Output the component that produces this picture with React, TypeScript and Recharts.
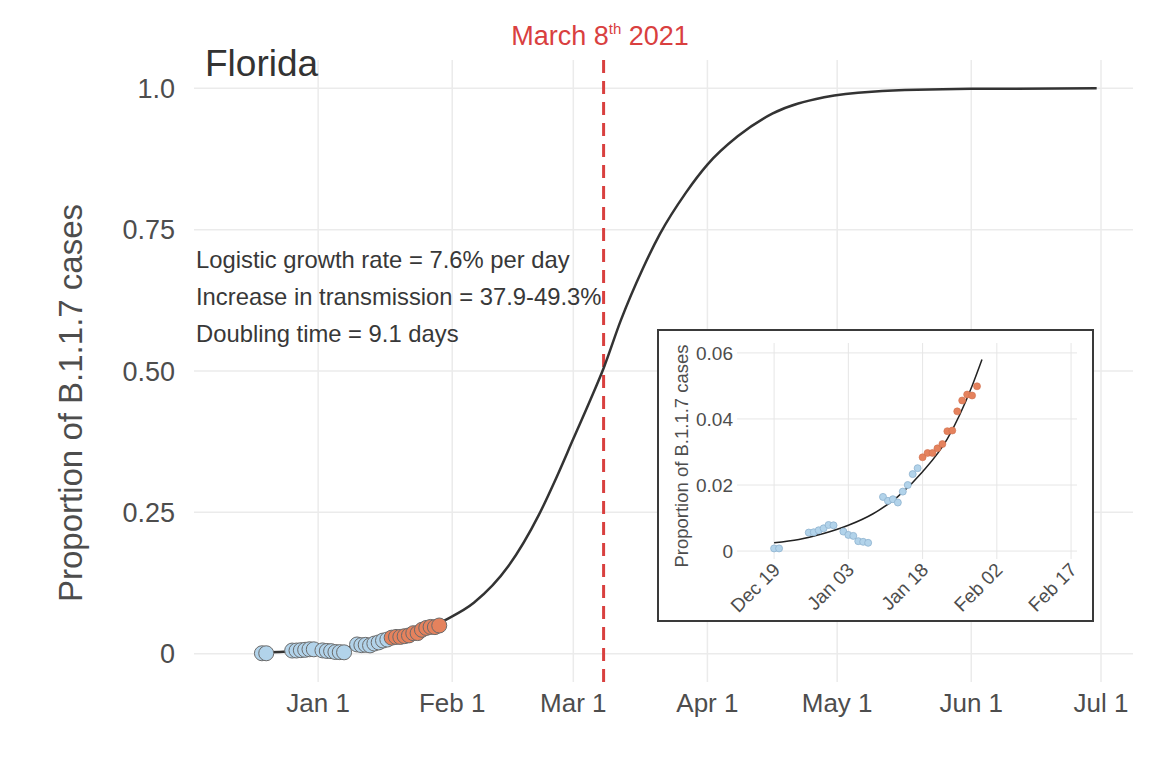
import { ComposedChart, Line, Scatter, XAxis, YAxis, CartesianGrid, ReferenceLine } from 'recharts'

const FONT = '"Liberation Sans", Arial, Helvetica, sans-serif'
const TEXT = '#4d4d4d'
const BLUE = '#b2d3ea'
const ORANGE = '#e5825d'

// all x values are days counted from Jan 1 2021 (Dec 19 = -13)
const mainTickDays = [0, 31, 59, 90, 120, 151, 181]
const mainTickLabels = ['Jan 1', 'Feb 1', 'Mar 1', 'Apr 1', 'May 1', 'Jun 1', 'Jul 1']
const shareTicks = [0, 0.25, 0.5, 0.75, 1]
const shareTickLabels = ['0', '0.25', '0.50', '0.75', '1.0']

const insetTickDays = [-13, 2, 17, 32, 47]
const insetTickLabels = ['Dec 19', 'Jan 03', 'Jan 18', 'Feb 02', 'Feb 17']
const insetShareTicks = [0, 0.02, 0.04, 0.06]
const insetShareLabels = ['0', '0.02', '0.04', '0.06']

const markerDay = 66 // March 8th

// sequenced samples, before Jan 18
const blueDays = [-13, -12, -6, -5, -4, -3, -2, -1, 1, 2, 3, 4, 5, 6, 9, 10, 11, 12, 13, 14, 15, 16]
const blueShare = [
  0.0008, 0.0008, 0.0056, 0.0057, 0.0063, 0.0069, 0.0079, 0.0078,
  0.0059, 0.0049, 0.0046, 0.003, 0.0028, 0.0025,
  0.0164, 0.0152, 0.0157, 0.0147, 0.018, 0.02, 0.0233, 0.0251,
]
// Jan 18 - Jan 29
const orangeDays = [17, 18, 19, 20, 21, 22, 23, 24, 25, 26, 27, 28]
const orangeShare = [0.0284, 0.0297, 0.0297, 0.0311, 0.0324, 0.0363, 0.0365, 0.0423, 0.0456, 0.0474, 0.0471, 0.0499]

// fitted logistic curve
const fitDays = [-13, -8, -3, 2, 7, 12, 17, 22, 27, 29, 36, 44, 51, 55, 59, 63, 66, 70, 75, 79, 85, 90, 97, 105, 117, 128, 151, 180]
const fitShare = [
  0.0025, 0.0035, 0.0053, 0.0078, 0.0113, 0.0165, 0.024, 0.034, 0.05, 0.058,
  0.09, 0.155, 0.245, 0.31, 0.38, 0.45, 0.505, 0.59, 0.68, 0.742, 0.815, 0.865,
  0.915, 0.955, 0.984, 0.994, 0.999, 1.0,
]
const insetFitEnd = 29

const blueData = blueDays.map((d, i) => ({ d, p: blueShare[i] }))
const orangeData = orangeDays.map((d, i) => ({ d, p: orangeShare[i] }))
const fitData = fitDays.map((d, i) => ({ d, p: fitShare[i] }))
const insetFitData = fitData.filter(r => r.d <= insetFitEnd)

function dot(r: number, fill: string, stroke: string, sw: number) {
  return (props: any) => (
    <circle cx={props.cx} cy={props.cy} r={r} fill={fill} stroke={stroke} strokeWidth={sw} />
  )
}

function InsetTick({ x, y, payload }: any) {
  const label = insetTickLabels[insetTickDays.indexOf(payload.value)]
  const ax = x + 7
  const ay = y + 12
  return (
    <text x={ax} y={ay} transform={`rotate(-45, ${ax}, ${ay})`} textAnchor="end"
      fontSize={19} fill={TEXT} fontFamily={FONT}>
      {label}
    </text>
  )
}

// ─── Main panel ───────────────────────────────────────────────────────────
function MainChart() {
  return (
    <ComposedChart width={1176} height={763} margin={{ top: 60, right: 43, bottom: 80, left: 193 }}>
      <CartesianGrid stroke="#ebebeb" strokeWidth={1.5} syncWithTicks />
      <XAxis
        type="number" dataKey="d" domain={[-28.7, 188.4]} allowDataOverflow
        ticks={mainTickDays} interval={0} height={1}
        tickFormatter={v => mainTickLabels[mainTickDays.indexOf(v)]}
        axisLine={false} tickLine={false} tickSize={0} tickMargin={12}
        tick={{ fontSize: 26, fill: TEXT, fontFamily: FONT }}
      />
      <YAxis
        type="number" dataKey="p" domain={[-0.05, 1.05]} allowDataOverflow
        ticks={shareTicks} interval={0} width={1}
        tickFormatter={v => shareTickLabels[shareTicks.indexOf(v)]}
        axisLine={false} tickLine={false} tickSize={0} tickMargin={19}
        tick={{ fontSize: 27, fill: TEXT, fontFamily: FONT }}
      />
      <ReferenceLine x={markerDay} stroke="#d9403f" strokeWidth={3} strokeDasharray="13 8" />
      <Line data={fitData} dataKey="p" type="monotone" stroke="#333" strokeWidth={2.5} dot={false} isAnimationActive={false} />
      <Scatter data={blueData} dataKey="p" shape={dot(7.5, BLUE, '#6b6b6b', 1)} isAnimationActive={false} />
      <Scatter data={orangeData} dataKey="p" shape={dot(7.5, ORANGE, '#6b6b6b', 1)} isAnimationActive={false} />
    </ComposedChart>
  )
}

// ─── Inset: first weeks ───────────────────────────────────────────────────
function InsetChart() {
  return (
    <ComposedChart width={437} height={293} margin={{ top: 14, right: 17, bottom: 62, left: 79 }}>
      <CartesianGrid stroke="#e6e6e6" strokeWidth={1} syncWithTicks />
      <XAxis
        type="number" dataKey="d" domain={[-20.5, 48.2]} allowDataOverflow
        ticks={insetTickDays} interval={0} height={1}
        axisLine={false} tickLine={false} tickSize={0} tickMargin={0}
        tick={<InsetTick />}
      />
      <YAxis
        type="number" dataKey="p" domain={[-0.0024, 0.063]} allowDataOverflow
        ticks={insetShareTicks} interval={0} width={1}
        tickFormatter={v => insetShareLabels[insetShareTicks.indexOf(v)]}
        axisLine={false} tickLine={false} tickSize={0} tickMargin={4}
        tick={{ fontSize: 19, fill: TEXT, fontFamily: FONT }}
      />
      <Line data={insetFitData} dataKey="p" type="monotone" stroke="#222" strokeWidth={1.5} dot={false} isAnimationActive={false} />
      <Scatter data={blueData} dataKey="p" shape={dot(3.5, BLUE, '#8eb3cf', 0.8)} isAnimationActive={false} />
      <Scatter data={orangeData} dataKey="p" shape={dot(3.5, ORANGE, '#cf6f4d', 0.6)} isAnimationActive={false} />
    </ComposedChart>
  )
}

export default function App() {
  return (
    <div style={{ position: 'absolute', left: 0, top: 0, width: 1176, height: 763, background: '#fff', fontFamily: FONT }}>
      <div style={{ position: 'absolute', left: 0, top: 0 }}>
        <MainChart />
      </div>
      <div style={{
        position: 'absolute', left: 657, top: 329, width: 437, height: 293,
        boxSizing: 'border-box', border: '2px solid #3a3a3a', background: '#fff',
      }} />
      <div style={{ position: 'absolute', left: 657, top: 329 }}>
        <InsetChart />
      </div>
      <svg width={1176} height={763} style={{ position: 'absolute', left: 0, top: 0, pointerEvents: 'none' }} fontFamily={FONT}>
        <text x={205} y={76} fontSize={37} fill="#333">Florida</text>
        <text x={600} y={45} fontSize={27} fill="#d9403f" textAnchor="middle">
          March 8<tspan fontSize={15} dy={-11}>th</tspan><tspan dy={11}> 2021</tspan>
        </text>
        <text x={196} y={268} fontSize={23.8} fill="#383838">Logistic growth rate = 7.6% per day</text>
        <text x={196} y={305} fontSize={23.8} fill="#383838">Increase in transmission = 37.9-49.3%</text>
        <text x={196} y={342} fontSize={23.8} fill="#383838">Doubling time = 9.1 days</text>
        <text x={70} y={403} fontSize={33} fill={TEXT} textAnchor="middle" dominantBaseline="central"
          transform="rotate(-90, 70, 403)">Proportion of B.1.1.7 cases</text>
        <text x={681} y={456} fontSize={18.5} fill={TEXT} textAnchor="middle" dominantBaseline="central"
          transform="rotate(-90, 681, 456)">Proportion of B.1.1.7 cases</text>
      </svg>
    </div>
  )
}
